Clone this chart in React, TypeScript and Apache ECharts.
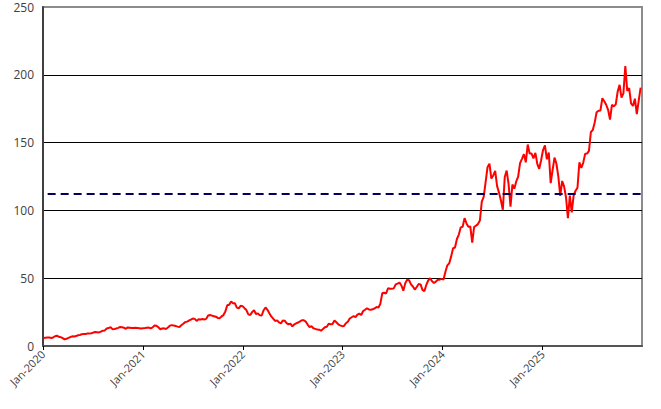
import React, { useEffect, useRef } from "react";
import * as echarts from "echarts";

// Weekly closing values (every Friday, starting 2020-01-03)
const firstWeek = "2020-01-03";
const p2020 = [
  5.9, 6.1, 6.3, 6.2, 5.9,
  6.3, 7.2, 7.6, 6.8,
  6.5, 5.8, 4.9, 5.3,
  6.0, 6.6, 7.1, 7.0,
  7.3, 7.9, 8.1, 8.7, 8.8,
  8.9, 9.2, 9.3, 9.4,
  9.9, 10.3, 10.2, 10.0, 10.6,
  11.3, 11.5, 12.9, 13.2,
  13.9, 12.4, 12.6, 12.9,
  13.4, 14.0, 13.8, 13.5, 12.7,
  13.7, 13.5, 13.2, 13.3,
  13.5, 13.3, 13.1, 12.9,
];
const p2021 = [
  13.1, 13.2, 13.5, 13.6, 13.0,
  13.7, 15.2, 15.0, 13.8,
  12.4, 12.9, 13.0, 12.6,
  13.7, 15.0, 15.4, 15.1, 14.8,
  14.3, 14.0, 15.3, 16.4,
  17.6, 18.0, 18.8, 19.4,
  20.3, 20.0, 18.5, 19.7, 19.6,
  19.9, 19.6, 20.0, 22.5,
  22.8, 22.4, 22.0, 21.6,
  20.7, 20.5, 21.8, 22.8, 25.5,
  30.0, 30.4, 32.9, 31.6,
  31.5, 28.3, 27.8, 29.6, 29.4,
];
const p2022 = [
  27.9, 26.5, 23.3, 22.8,
  25.0, 26.5, 23.6, 24.1,
  22.6, 22.5, 26.4, 28.4,
  26.7, 24.2, 21.8, 20.2, 18.5,
  18.9, 17.5, 16.6, 18.8,
  18.7, 16.9, 15.9, 16.5,
  14.5, 15.9, 16.7, 17.3, 18.1,
  19.0, 19.0, 18.0, 15.8,
  13.9, 14.6, 13.1, 12.6, 12.1,
  12.0, 11.3, 12.5, 13.8,
  14.2, 16.4, 16.0, 16.3,
  18.8, 17.5, 16.0, 15.2, 14.6,
];
const p2023 = [
  14.8, 16.8, 17.9, 20.3,
  21.2, 22.0, 21.3, 23.2,
  23.9, 22.9, 25.8, 26.7, 27.8,
  27.0, 26.8, 27.1, 27.8,
  28.7, 28.3, 31.2, 38.9,
  39.3, 38.7, 42.6, 42.2, 42.3,
  42.5, 45.4, 46.0, 46.8,
  44.6, 40.8, 46.3, 48.8,
  48.5, 45.5, 43.9, 41.6, 43.5,
  45.7, 45.4, 41.4, 40.5,
  45.0, 48.3, 50.0, 47.8,
  46.5, 47.5, 48.9, 48.9, 49.5,
];
const p2024 = [
  49.0, 54.7, 59.5, 61.0,
  66.1, 72.1, 72.6, 78.9,
  82.2, 87.5, 87.9, 94.3, 90.4,
  88.0, 88.1, 76.2, 87.8,
  88.8, 89.9, 92.5, 106.5, 110.0,
  120.9, 131.9, 134.5, 123.5,
  125.8, 129.2, 117.9, 113.1,
  107.3, 100.5, 124.6, 129.4, 119.4,
  102.8, 119.1, 116.0, 121.4,
  124.9, 134.8, 138.0, 141.5,
  135.4, 148.6, 141.9, 141.9, 138.3,
  142.4, 134.3, 130.7, 137.0,
];
const p2025 = [
  144.5, 148.0, 137.7, 142.6, 120.1,
  129.8, 138.9, 134.4, 124.9,
  110.7, 121.7, 117.7, 109.7,
  94.3, 110.9, 98.5, 111.0,
  114.5, 116.7, 135.4, 131.3, 135.1,
  141.7, 141.9, 143.9, 157.8,
  159.3, 164.9, 172.4, 173.5,
  173.7, 182.7, 180.5, 177.9, 174.2,
  167.0, 177.8, 176.7, 178.2,
  187.6, 192.6, 183.2, 186.3, 206.5,
  188.2, 190.2, 178.9, 177.0,
  182.4, 171.0, 180.9, 190.5,
];
const averageLevel = 112;
const averageStart = "2020-01-18";
const yTicks = [0, 50, 100, 150, 200, 250];

const values = [...p2020, ...p2021, ...p2022, ...p2023, ...p2024, ...p2025];
const DAY = 86400000;
const weekStart = new Date(firstWeek + "T00:00:00Z").getTime();
const seriesData = values.map((v, i) => [weekStart + i * 7 * DAY, v]);
const xMin = Date.UTC(2020, 0, 1);
const xMax = Date.UTC(2025, 11, 31);

export default function App() {
  const ref = useRef<HTMLDivElement>(null);
  useEffect(() => {
    if (!ref.current) return;
    const chart = echarts.init(ref.current, undefined, { renderer: "svg" });
    chart.setOption({
      animation: false,
      backgroundColor: "#ffffff",
      textStyle: { fontFamily: "Open Sans" },
      grid: {
        left: 43,
        right: 19,
        top: 7,
        bottom: 63,
        show: true,
        borderColor: "#8c8c8c",
        borderWidth: 2,
        containLabel: false,
      },
      xAxis: {
        type: "time",
        min: xMin,
        max: xMax,
        minInterval: 365 * DAY,
        maxInterval: 366 * DAY,
        axisLine: { show: true, lineStyle: { color: "#555555", width: 2 } },
        axisTick: { show: true, length: 4, lineStyle: { color: "#000000" } },
        splitLine: { show: false },
        axisLabel: {
          rotate: 45,
          color: "#404040",
          fontSize: 11,
          fontFamily: "Open Sans",
          margin: 6,
          formatter: (val: number) => {
            const d = new Date(val);
            return "Jan-" + d.getUTCFullYear();
          },
        },
      },
      yAxis: {
        type: "value",
        min: yTicks[0],
        max: yTicks[yTicks.length - 1],
        interval: 50,
        axisLine: { show: true, lineStyle: { color: "#404040", width: 2 } },
        axisTick: { show: false },
        splitLine: {
          show: true,
          showMaxLine: false,
          showMinLine: false,
          lineStyle: { color: "#000000", width: 1 },
        },
        axisLabel: {
          color: "#404040",
          fontSize: 12,
          fontFamily: "Open Sans",
          margin: 9,
        },
      },
      series: [
        {
          type: "line",
          data: seriesData,
          showSymbol: false,
          symbol: "none",
          lineStyle: { color: "#ff0000", width: 2 },
          z: 3,
          markLine: {
            silent: true,
            symbol: "none",
            label: { show: false },
            lineStyle: { type: [8, 5], color: "#000060", width: 2 },
            data: [
              [
                { coord: [new Date(averageStart + "T00:00:00Z").getTime(), averageLevel] },
                { coord: [xMax, averageLevel] },
              ],
            ],
            z: 4,
          },
        },
      ],
    });
    return () => chart.dispose();
  }, []);
  return (
    <div
      ref={ref}
      style={{ position: "fixed", left: 0, top: 0, width: 661, height: 409 }}
    />
  );
}
